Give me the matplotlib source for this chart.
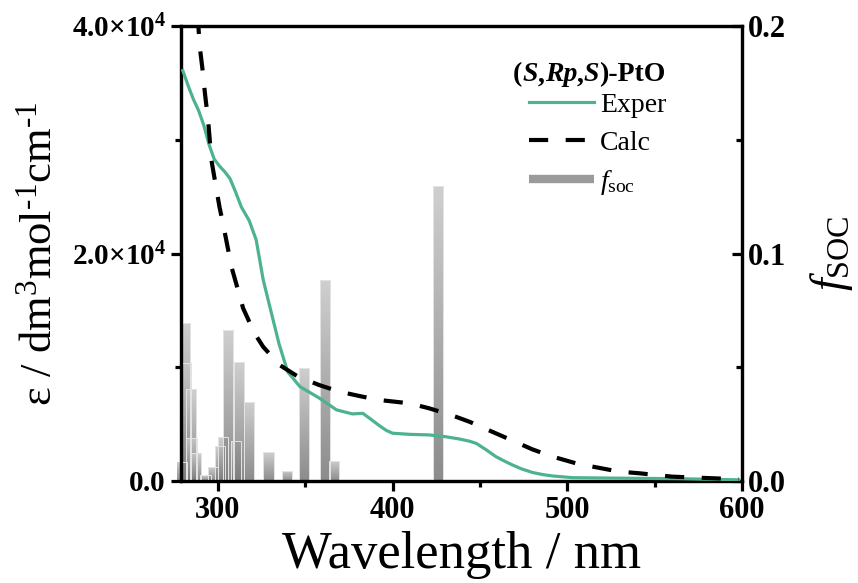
import numpy as np
import matplotlib
matplotlib.use('Agg')
import matplotlib.pyplot as plt
from matplotlib.colors import LinearSegmentedColormap
from matplotlib.lines import Line2D
from matplotlib.ticker import FixedLocator, FixedFormatter

plt.rcParams['font.family'] = ['Liberation Serif', 'DejaVu Serif']
plt.rcParams['mathtext.fontset'] = 'custom'
plt.rcParams['mathtext.rm'] = 'Liberation Serif'
plt.rcParams['mathtext.it'] = 'Liberation Serif:italic'
plt.rcParams['mathtext.bf'] = 'Liberation Serif:bold'

# experimental absorption spectrum
exp_wl = [280, 283, 286, 289, 292, 295, 298, 301, 304, 307, 310, 313.5, 318, 322,
          326, 330, 335, 340, 347, 358, 368, 377, 383, 387, 392.6, 396.4, 400, 410,
          421, 430, 438, 444, 448, 454, 459, 464, 468.7, 474, 480, 486, 491.6, 503,
          526, 564, 598]
exp_eps = [36100, 34800, 33600, 32600, 31300, 29600, 28300, 27700, 27200, 26600, 25500,
           24100, 22900, 21200, 17700, 15200, 12100, 9600, 8300, 7300, 6250, 5900, 5950,
           5500, 4850, 4450, 4200, 4100, 4050, 3900, 3700, 3500, 3300, 2700, 2150, 1750,
           1400, 1050, 750, 560, 440, 290, 250, 200, 100]

# calculated spectrum
calc_wl = [288.5, 289.7, 291.6, 292.6, 294.5, 296.4, 298.3, 301, 303, 306, 307.8, 311.6,
           314.5, 321, 326, 335.4, 346, 358, 369.7, 383, 392.6, 409.7, 421, 433.5, 444,
           457, 467, 480, 491.6, 505, 514.5, 529.7, 541, 560, 583, 598]
calc_eps = [41000, 38200, 35800, 34200, 31700, 28200, 26500, 24100, 22650, 20300, 18850,
            16800, 15200, 13000, 11800, 10200, 9170, 8440, 7850, 7410, 7120, 6830, 6390,
            5800, 5210, 4330, 3660, 2780, 2140, 1550, 1260, 820, 680, 380, 240, 150]

# spin-orbit coupled oscillator strengths
soc_wl = [279.5, 281.3, 281.8, 284.7, 285.0, 287.5, 293.0, 297.4, 301.5, 303.0, 306.0,
          310.5, 312.0, 317.7, 329.0, 339.7, 349.3, 361.5, 366.7, 425.9]
soc_f = [0.0085, 0.0696, 0.052, 0.0404, 0.019, 0.0122, 0.0026, 0.0063, 0.0155, 0.0195,
         0.0664, 0.0176, 0.0524, 0.0349, 0.0126, 0.0044, 0.0498, 0.0884, 0.0088, 0.1297]

green = '#4db38f'

fig = plt.figure(figsize=(8.58, 5.83), dpi=100)
ax = fig.add_axes([0.211, 0.175, 0.654, 0.780])
ax2 = ax.twinx()

# bars with a vertical grey gradient
gray = LinearSegmentedColormap.from_list('g', ['#7c7c7c', '#c9c9c9'])
grad = np.linspace(0, 1, 256).reshape(-1, 1)
bars = ax2.bar(soc_wl, soc_f, width=5.8, facecolor='none', edgecolor='#e4e4e4',
               linewidth=0.7, zorder=3)
for p in bars:
    x0, w, h = p.get_x(), p.get_width(), p.get_height()
    im = ax2.imshow(grad, extent=[x0, x0 + w, 0, h], origin='lower', cmap=gray,
                    aspect='auto', alpha=0.88, zorder=2)
    im.set_clip_path(p)

ax.plot(exp_wl, exp_eps, color=green, lw=2.3, zorder=3)
ax.plot(calc_wl, calc_eps, color='black', lw=3.0, dashes=(4.6, 4.2), zorder=4)

ax.set_zorder(ax2.get_zorder() + 1)
ax.patch.set_visible(False)

ax.set_xlim(279, 600)
ax2.set_xlim(279, 600)
ax.set_ylim(0, 40000)
ax2.set_ylim(0, 0.2)

lw_sp = 2.3
for a in (ax, ax2):
    for s in a.spines.values():
        s.set_linewidth(lw_sp)

ax.xaxis.set_major_locator(FixedLocator([300, 400, 500, 600]))
ax.xaxis.set_minor_locator(FixedLocator([350, 450, 550]))
ax.set_xticklabels(['300', '400', '500', '600'], fontsize=22, fontweight='bold')

ax.yaxis.set_major_locator(FixedLocator([0, 20000, 40000]))
ax.yaxis.set_minor_locator(FixedLocator([10000, 30000]))
ax.yaxis.set_major_formatter(FixedFormatter([r'$\mathbf{0.0}$',
                                             r'$\mathbf{2.0{\times}10^{4}}$',
                                             r'$\mathbf{4.0{\times}10^{4}}$']))
for t in ax.get_yticklabels():
    t.set_fontsize(21)

ax2.yaxis.set_major_locator(FixedLocator([0, 0.1, 0.2]))
ax2.yaxis.set_minor_locator(FixedLocator([0.05, 0.15]))
ax2.set_yticklabels(['0.0', '0.1', '0.2'], fontsize=22, fontweight='bold')

ax.tick_params(axis='both', which='major', direction='out', length=7, width=lw_sp, pad=4)
ax.tick_params(axis='both', which='minor', direction='out', length=4, width=lw_sp)
ax.tick_params(axis='y', right=False)
ax.tick_params(axis='x', top=False, which='both')
ax2.tick_params(axis='y', which='major', direction='in', length=7, width=lw_sp, pad=4)
ax2.tick_params(axis='y', which='minor', direction='in', length=4, width=lw_sp)

ax.set_xlabel('Wavelength / nm', fontsize=38, labelpad=4)
ax.set_ylabel(r'ε / dm$^{3}$mol$^{\text{-}1}$cm$^{\text{-}1}$', fontsize=32, labelpad=8)
ax2.set_ylabel(r'$f_{\mathrm{SOC}}$', fontsize=33, labelpad=16)

# legend
handles = [Line2D([], [], color=green, lw=2.3),
           Line2D([], [], color='black', lw=3.0, dashes=(4.6, 4.2)),
           Line2D([], [], color='#9a9a9a', lw=6, solid_capstyle='butt')]
labels = ['Exper', 'Calc', r'$f_{\mathrm{soc}}$']
ax.legend(handles, labels, loc='upper left', bbox_to_anchor=(0.62, 0.855),
          frameon=False, fontsize=20, handlelength=2.35, handletextpad=0.2,
          labelspacing=0.45, borderpad=0, borderaxespad=0)

# legend title with mixed bold / bold-italic pieces
pieces = [('(', 'normal'), ('S', 'italic'), (',', 'normal'), ('Rp', 'italic'),
          (',', 'normal'), ('S', 'italic'), (')-PtO', 'normal')]
prev = ax.text(0.592, 0.879, pieces[0][0], transform=ax.transAxes, fontsize=20,
               fontweight='bold', fontstyle=pieces[0][1], va='baseline')
for txt, style in pieces[1:]:
    prev = ax.annotate(txt, xy=(1, 0), xycoords=prev, va='bottom', ha='left',
                       fontsize=20, fontweight='bold', fontstyle=style)

fig.savefig('out.png', dpi=100)
